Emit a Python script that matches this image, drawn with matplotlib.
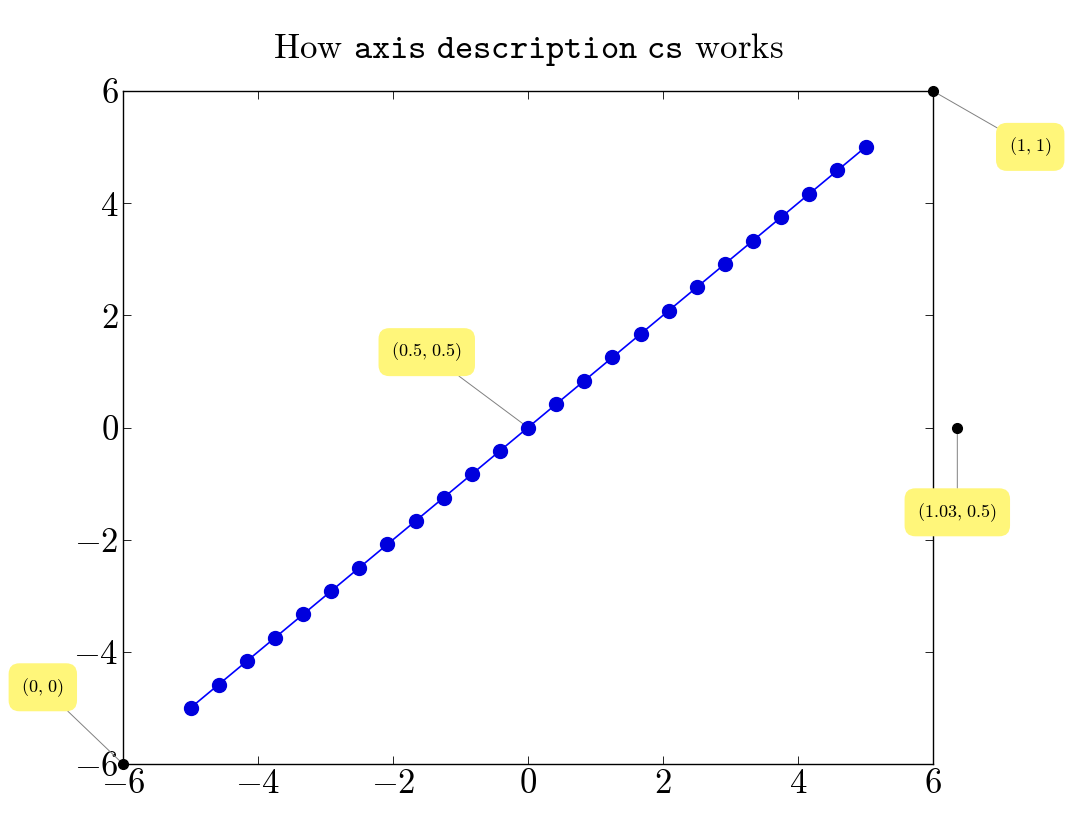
import numpy as np
import matplotlib
matplotlib.use("Agg")
import matplotlib.pyplot as plt

plt.rcParams['font.family'] = ['cmr10']
plt.rcParams['mathtext.fontset'] = 'cm'
plt.rcParams['axes.formatter.use_mathtext'] = True

x_vals = np.linspace(-5, 5, 25)
y_vals = x_vals.copy()
ticks = [-6, -4, -2, 0, 2, 4, 6]
points = [(1, 1), (0, 0), (0.5, 0.5), (1.03, 0.5)]
labels = [r"$(1,\,1)$", r"$(0,\,0)$", r"$(0.5,\,0.5)$", r"$(1.03,\,0.5)$"]
label_pos = [(1.12, 0.917), (-0.099, 0.114), (0.375, 0.612), (1.03, 0.374)]

fig = plt.figure(figsize=(10.79, 8.23), dpi=100)
ax = fig.add_axes([0.114, 0.0717, 0.7507, 0.8177])
ax.plot(x_vals, y_vals, color='blue', lw=1.2, marker='o', ms=10,
        markerfacecolor='#0000dd', markeredgecolor='#0000dd', zorder=6)
ax.set_xlim(-6, 6)
ax.set_ylim(-6, 6)
ax.set_xticks(ticks)
ax.set_yticks(ticks)
ax.set_xticklabels([f"${t}$" for t in ticks])
ax.set_yticklabels([f"${t}$" for t in ticks])
ax.tick_params(direction='in', top=True, right=True, labelsize=25, length=6, width=0.6, pad=3)
for s in ax.spines.values():
    s.set_linewidth(1.0)
ax.set_title(r"How $\mathtt{axis\ description\ cs}$ works", fontsize=25, pad=24)

for (px, py), lab, (lx, ly) in zip(points, labels, label_pos):
    ax.plot([px], [py], 'o', color='black', ms=7, transform=ax.transAxes,
            clip_on=False, zorder=5)
    ax.annotate(lab, xy=(px, py), xycoords='axes fraction',
                xytext=(lx, ly), textcoords='axes fraction',
                ha='center', va='center', fontsize=13,
                bbox=dict(boxstyle='round,pad=0.7,rounding_size=0.6',
                          fc='#fff67a', ec='none'),
                arrowprops=dict(arrowstyle='-', color='gray', lw=0.7,
                                shrinkA=0, shrinkB=0),
                annotation_clip=False, zorder=4)

fig.savefig("out.png", dpi=100)
